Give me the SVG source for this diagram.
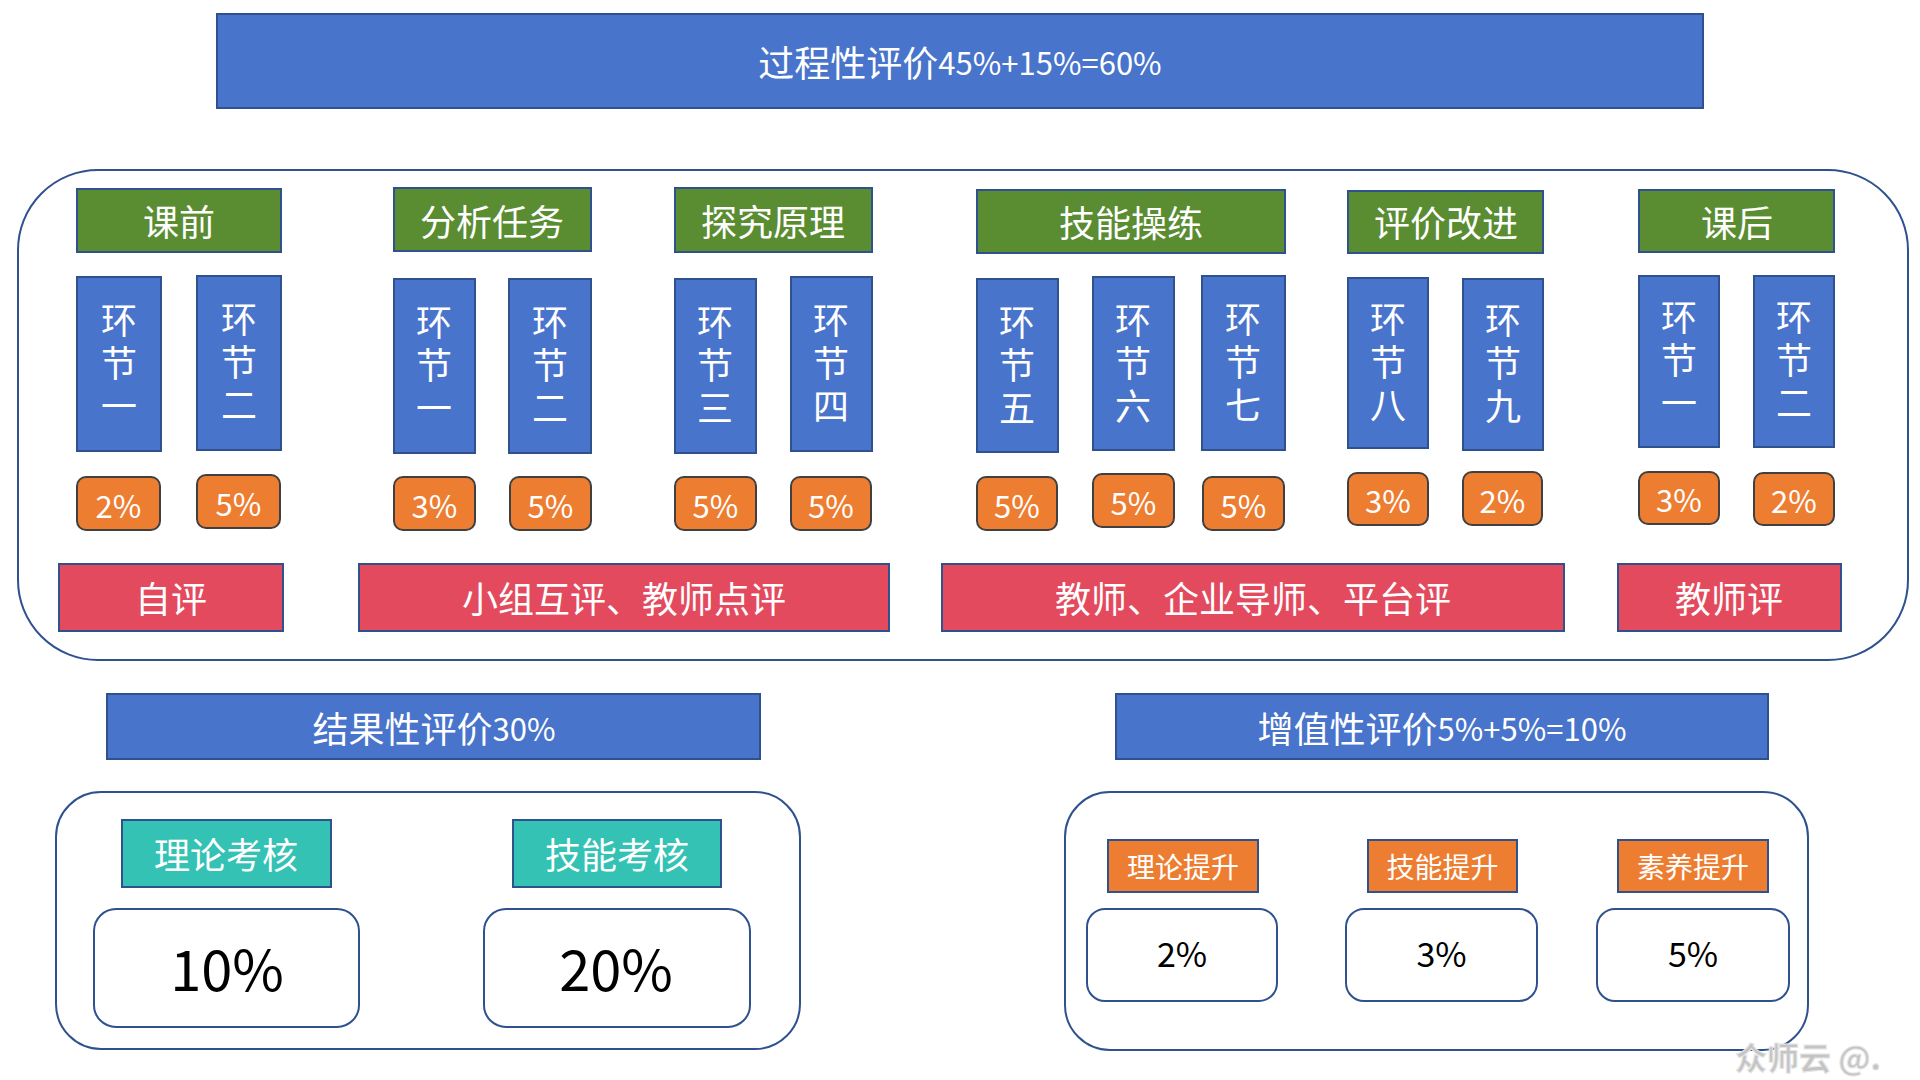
<svg xmlns="http://www.w3.org/2000/svg" width="1920" height="1080" viewBox="0 0 1920 1080">
<style>
text{font-family:"Noto Sans CJK SC","Noto Sans",sans-serif;text-anchor:middle;dominant-baseline:central}
.ban{fill:#4874CB;stroke:#2F528F;stroke-width:2}
.grn{fill:#5A8C32;stroke:#2F528F;stroke-width:2}
.blu{fill:#4874CB;stroke:#2F528F;stroke-width:2}
.org{fill:#ED7D31;stroke:#404040;stroke-width:2}
.orb{fill:#ED7D31;stroke:#2F528F;stroke-width:2}
.red{fill:#E34A5E;stroke:#2F528F;stroke-width:2}
.tea{fill:#33C2B4;stroke:#2F528F;stroke-width:2}
.wb{fill:#FFFFFF;stroke:#2F528F;stroke-width:2}
.cont{fill:none;stroke:#2F528F;stroke-width:2}
.w36{fill:#fff;font-size:36px}
.vt{fill:#fff;font-size:36px;writing-mode:vertical-rl;letter-spacing:7px}
.w32{fill:#fff;font-size:31px}
.w28{fill:#fff;font-size:28px}
.lat{font-size:31px}
.k56{fill:#000;font-size:56px}
.k34{fill:#000;font-size:34px}
</style>

<g id="containers">
<rect class="cont" x="18" y="170" width="1890" height="490" rx="80" ry="80"/>
<rect class="cont" x="56" y="792" width="744" height="257" rx="45" ry="45"/>
<rect class="cont" x="1065" y="792" width="743" height="258" rx="45" ry="45"/>
</g>

<g id="banner-process"><rect class="ban" x="217" y="14" width="1486" height="94"/><text class="w36" x="960" y="61">过程性评价<tspan class="lat">45%+15%=60%</tspan></text></g>

<g id="hdr-kq"><rect class="grn" x="77" y="189" width="204" height="63"/><text class="w36" x="179" y="220">课前</text></g>
<g id="hdr-fx"><rect class="grn" x="394" y="188" width="197" height="63"/><text class="w36" x="492" y="220">分析任务</text></g>
<g id="hdr-tj"><rect class="grn" x="675" y="188" width="197" height="64"/><text class="w36" x="773" y="220">探究原理</text></g>
<g id="hdr-jn"><rect class="grn" x="977" y="190" width="308" height="63"/><text class="w36" x="1131" y="221">技能操练</text></g>
<g id="hdr-pj"><rect class="grn" x="1348" y="191" width="195" height="62"/><text class="w36" x="1446" y="221">评价改进</text></g>
<g id="hdr-kh"><rect class="grn" x="1639" y="190" width="195" height="62"/><text class="w36" x="1737" y="221">课后</text></g>

<g id="step-a1"><rect class="blu" x="77" y="277" width="84" height="174"/><text class="vt" x="119" y="367">环节一</text></g>
<g id="step-a2"><rect class="blu" x="197" y="276" width="84" height="174"/><text class="vt" x="239" y="366">环节二</text></g>
<g id="step-b1"><rect class="blu" x="394" y="279" width="81" height="174"/><text class="vt" x="434" y="369">环节一</text></g>
<g id="step-b2"><rect class="blu" x="509" y="279" width="82" height="174"/><text class="vt" x="550" y="369">环节二</text></g>
<g id="step-3"><rect class="blu" x="675" y="279" width="81" height="174"/><text class="vt" x="715" y="369">环节三</text></g>
<g id="step-4"><rect class="blu" x="791" y="277" width="81" height="174"/><text class="vt" x="831" y="367">环节四</text></g>
<g id="step-5"><rect class="blu" x="977" y="279" width="81" height="173"/><text class="vt" x="1017" y="369">环节五</text></g>
<g id="step-6"><rect class="blu" x="1093" y="277" width="81" height="173"/><text class="vt" x="1133" y="367">环节六</text></g>
<g id="step-7"><rect class="blu" x="1202" y="276" width="83" height="174"/><text class="vt" x="1243" y="366">环节七</text></g>
<g id="step-8"><rect class="blu" x="1348" y="278" width="80" height="170"/><text class="vt" x="1388" y="366">环节八</text></g>
<g id="step-9"><rect class="blu" x="1463" y="279" width="80" height="171"/><text class="vt" x="1503" y="367">环节九</text></g>
<g id="step-c1"><rect class="blu" x="1639" y="276" width="80" height="171"/><text class="vt" x="1679" y="364">环节一</text></g>
<g id="step-c2"><rect class="blu" x="1754" y="276" width="80" height="171"/><text class="vt" x="1794" y="364">环节二</text></g>

<g id="pct-a1"><rect class="org" x="77" y="477" width="83" height="53" rx="9"/><text class="w32" x="118.5" y="504">2%</text></g>
<g id="pct-a2"><rect class="org" x="197" y="475" width="83" height="53" rx="9"/><text class="w32" x="238.5" y="502">5%</text></g>
<g id="pct-b1"><rect class="org" x="394" y="477" width="81" height="53" rx="9"/><text class="w32" x="434.5" y="504">3%</text></g>
<g id="pct-b2"><rect class="org" x="510" y="477" width="81" height="53" rx="9"/><text class="w32" x="550.5" y="504">5%</text></g>
<g id="pct-3"><rect class="org" x="675" y="477" width="81" height="53" rx="9"/><text class="w32" x="715.5" y="504">5%</text></g>
<g id="pct-4"><rect class="org" x="791" y="477" width="80" height="53" rx="9"/><text class="w32" x="831" y="504">5%</text></g>
<g id="pct-5"><rect class="org" x="977" y="477" width="80" height="53" rx="9"/><text class="w32" x="1017" y="504">5%</text></g>
<g id="pct-6"><rect class="org" x="1093" y="474" width="81" height="53" rx="9"/><text class="w32" x="1133.5" y="501">5%</text></g>
<g id="pct-7"><rect class="org" x="1203" y="477" width="81" height="53" rx="9"/><text class="w32" x="1243.5" y="504">5%</text></g>
<g id="pct-8"><rect class="org" x="1348" y="473" width="80" height="52" rx="9"/><text class="w32" x="1388" y="499">3%</text></g>
<g id="pct-9"><rect class="org" x="1463" y="472" width="79" height="53" rx="9"/><text class="w32" x="1502.5" y="499">2%</text></g>
<g id="pct-c1"><rect class="org" x="1639" y="472" width="80" height="52" rx="9"/><text class="w32" x="1679" y="498">3%</text></g>
<g id="pct-c2"><rect class="org" x="1754" y="473" width="80" height="52" rx="9"/><text class="w32" x="1794" y="499">2%</text></g>

<g id="eval-self"><rect class="red" x="59" y="564" width="224" height="67"/><text class="w36" x="171" y="597">自评</text></g>
<g id="eval-group"><rect class="red" x="359" y="564" width="530" height="67"/><text class="w36" x="624" y="597">小组互评、教师点评</text></g>
<g id="eval-multi"><rect class="red" x="942" y="564" width="622" height="67"/><text class="w36" x="1253" y="597">教师、企业导师、平台评</text></g>
<g id="eval-teacher"><rect class="red" x="1618" y="564" width="223" height="67"/><text class="w36" x="1729" y="597">教师评</text></g>

<g id="banner-result"><rect class="ban" x="107" y="694" width="653" height="65"/><text class="w36" x="434" y="727">结果性评价<tspan class="lat">30%</tspan></text></g>
<g id="hdr-theory"><rect class="tea" x="122" y="820" width="209" height="67"/><text class="w36" x="226" y="853">理论考核</text></g>
<g id="hdr-skill"><rect class="tea" x="513" y="820" width="208" height="67"/><text class="w36" x="617" y="853">技能考核</text></g>
<g id="val-10"><rect class="wb" x="94" y="909" width="265" height="118" rx="22"/><text class="k56" x="227" y="966">10%</text></g>
<g id="val-20"><rect class="wb" x="484" y="909" width="266" height="118" rx="22"/><text class="k56" x="616" y="966">20%</text></g>

<g id="banner-value"><rect class="ban" x="1116" y="694" width="652" height="65"/><text class="w36" x="1442" y="727">增值性评价<tspan class="lat">5%+5%=10%</tspan></text></g>
<g id="hdr-ltts"><rect class="orb" x="1108" y="840" width="150" height="52"/><text class="w28" x="1183" y="866">理论提升</text></g>
<g id="hdr-jnts"><rect class="orb" x="1368" y="840" width="149" height="52"/><text class="w28" x="1442.5" y="866">技能提升</text></g>
<g id="hdr-syts"><rect class="orb" x="1618" y="840" width="150" height="52"/><text class="w28" x="1693" y="866">素养提升</text></g>
<g id="val-2"><rect class="wb" x="1087" y="909" width="190" height="92" rx="18"/><text class="k34" x="1182" y="952">2%</text></g>
<g id="val-3"><rect class="wb" x="1346" y="909" width="191" height="92" rx="18"/><text class="k34" x="1441.5" y="952">3%</text></g>
<g id="val-5"><rect class="wb" x="1597" y="909" width="192" height="92" rx="18"/><text class="k34" x="1693" y="952">5%</text></g>

<g id="connectors"></g>

<text x="1808" y="1056" style="font-size:32px;font-weight:bold;fill:#c4c4c4;stroke:#e6e6e6;stroke-width:1">众师云 @.</text>
</svg>
